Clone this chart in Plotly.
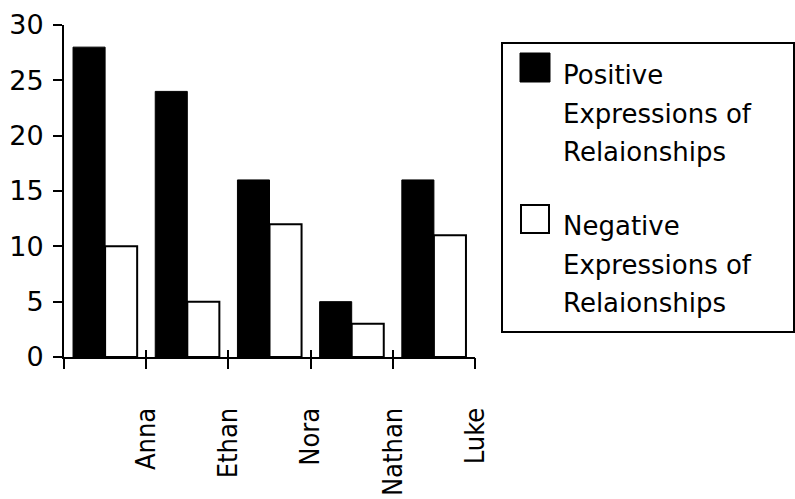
import plotly.graph_objects as go

# Data
names = ["Anna", "Ethan", "Nora", "Nathan", "Luke"]
positive = [28, 24, 16, 5, 16]
negative = [10, 5, 12, 3, 11]
series_names = ["Positive", "Negative"]
legend_lines = ["Expressions of", "Relaionships"]
y_ticks = [0, 5, 10, 15, 20, 25, 30]

# Canvas and plot-area geometry (pixels)
W, H = 795, 499
L, R, T, B = 64, 320, 25, 142
PW, PH = W - L - R, H - T - B


def px(xp):
    return (xp - L) / PW


def py(yp):
    return (H - B - yp) / PH


fig = go.Figure()
fig.add_bar(x=names, y=positive, name=series_names[0],
            marker=dict(color="black", line=dict(color="black", width=1)))
fig.add_bar(x=names, y=negative, name=series_names[1],
            marker=dict(color="white", line=dict(color="black", width=2)))
# helper trace so the label axis is drawn
fig.add_scatter(x=[None], y=[None], xaxis="x2", showlegend=False,
                hoverinfo="skip")

label_font = dict(family="Liberation Sans Narrow, DejaVu Sans Condensed, Arial Narrow, sans-serif",
                  size=27, color="black")
text_font = dict(family="DejaVu Sans, sans-serif", size=26, color="black")

boundaries = [i - 0.5 for i in range(len(names) + 1)]

fig.update_layout(
    width=W, height=H, autosize=False,
    margin=dict(l=L, r=R, t=T, b=B, pad=0),
    paper_bgcolor="white", plot_bgcolor="white",
    barmode="group", bargap=0.22, bargroupgap=0,
    showlegend=False,
    xaxis=dict(type="category", range=[-0.5, len(names) - 0.5],
               showline=True, linecolor="black", linewidth=2,
               ticks="inside", tickson="boundaries", ticklen=7,
               tickwidth=2, tickcolor="black", automargin=False,
               showticklabels=False, showgrid=False, zeroline=False),
    xaxis2=dict(overlaying="x", anchor="y", side="bottom",
                range=[-0.5, len(names) - 0.5],
                tickmode="array", tickvals=boundaries,
                ticktext=[""] + names, automargin=False,
                ticks="outside", ticklen=11, tickwidth=2, tickcolor="black",
                tickangle=-90, tickfont=label_font, ticklabelstandoff=28,
                showline=False, showgrid=False, zeroline=False),
    yaxis=dict(range=[0, 30], tickmode="array", tickvals=y_ticks,
               showline=True, linecolor="black", linewidth=2,
               ticks="outside", ticklen=9, tickwidth=2, tickcolor="black",
               tickfont=dict(family="DejaVu Sans, sans-serif", size=27,
                             color="black"), automargin=False,
               ticklabelstandoff=4, showgrid=False, zeroline=False),
)

# Legend frame, swatches and labels
shapes = [
    dict(type="rect", xref="paper", yref="paper",
         x0=px(502), x1=px(794), y0=py(332), y1=py(43),
         line=dict(color="black", width=2), fillcolor="rgba(0,0,0,0)"),
    dict(type="rect", xref="paper", yref="paper",
         x0=px(520), x1=px(550), y0=py(82), y1=py(53),
         line=dict(color="black", width=1), fillcolor="black"),
    dict(type="rect", xref="paper", yref="paper",
         x0=px(521), x1=px(549), y0=py(233), y1=py(205),
         line=dict(color="black", width=2), fillcolor="white"),
]
annotations = []
for first, mid_top in ((series_names[0], 75), (series_names[1], 226)):
    for k, line in enumerate([first] + legend_lines):
        annotations.append(dict(
            xref="paper", yref="paper", x=px(561), y=py(mid_top + 38.5 * k),
            xanchor="left", yanchor="middle", text=line, showarrow=False,
            font=text_font))

fig.update_layout(shapes=shapes, annotations=annotations)

fig.write_html("out.html")
